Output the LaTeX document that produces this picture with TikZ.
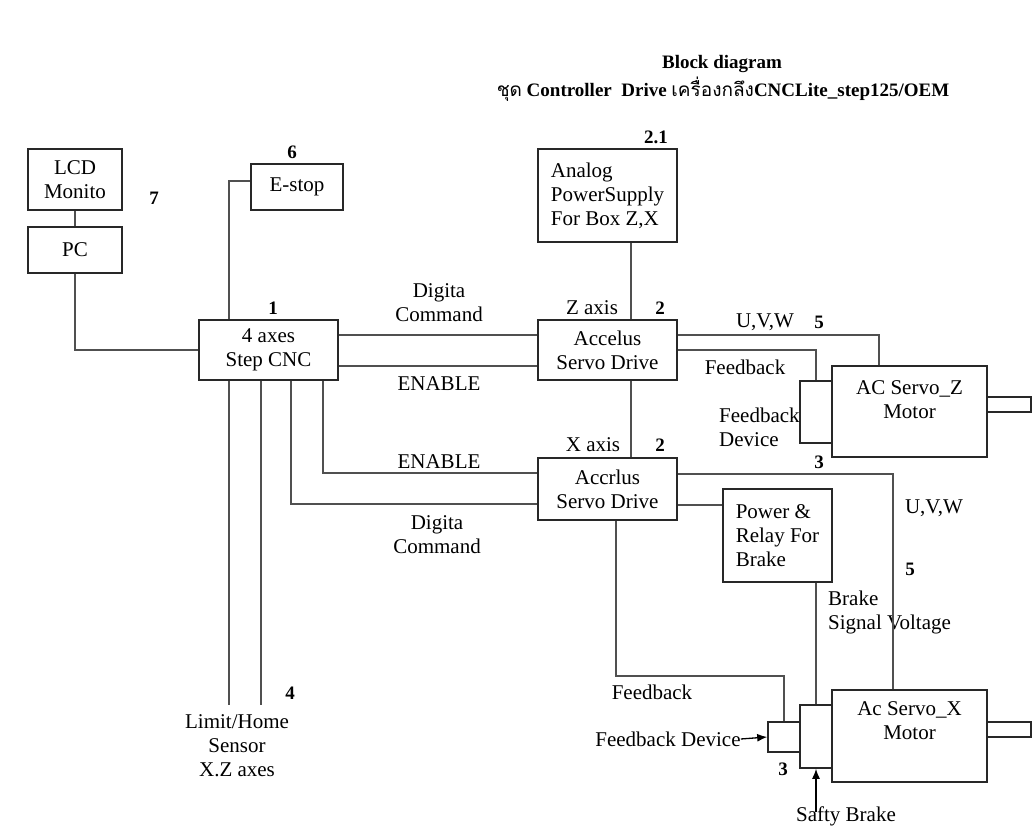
\documentclass[tikz,border=0pt]{standalone}
\usepackage{fontspec}
\setmainfont{Liberation Serif}
\newfontfamily\thaifont[Script=Thai]{Loma}
\usepackage{tikz}
\usetikzlibrary{arrows.meta,calc,positioning}
\definecolor{cncwire}{RGB}{80,80,80}
\definecolor{cncedge}{RGB}{40,40,40}

\begin{document}
\begin{tikzpicture}[x=1pt, y=-1pt,
      blk/.style={draw=cncedge, line width=1.6pt, inner sep=0pt, align=center, font=\fontsize{21}{24}\selectfont},
      wire/.style={draw=cncwire, line width=1.8pt},
      txt/.style={inner sep=0pt, align=center, font=\fontsize{21}{24}\selectfont},
      num/.style={inner sep=0pt, font=\fontsize{19}{22}\selectfont\bfseries},
      ttl/.style={inner sep=0pt, font=\fontsize{19}{22}\selectfont\bfseries}
    ]
      \useasboundingbox (0,0) rectangle (1033,838);

      \node[ttl] (title) at (722,64) {Block diagram};
      \node[ttl] (subtitle) at (723,89) {{\thaifont\mdseries ชุด} Controller\ \ Drive {\thaifont\mdseries เครื่องกลึง}CNCLite\_step125/OEM};

      \node[blk, minimum width=94pt, minimum height=61pt] (lcd) at (75,179.5) {LCD\\Monito};
      \node[blk, minimum width=94pt, minimum height=46pt] (pc) at (75,250) {PC};
      \node[blk, minimum width=92pt, minimum height=46pt] (estop) at (297,187) {E-stop};
      \node[blk, minimum width=139pt, minimum height=60pt] (cnc) at (268.5,350) {4 axes\\Step CNC};
      \node[blk, minimum width=139pt, minimum height=93pt, align=left] (analog) at (607.5,195.5) {Analog\\PowerSupply\\For Box Z,X};
      \node[blk, minimum width=139pt, minimum height=60pt] (accz) at (607.5,350) {Accelus\\Servo Drive};
      \node[blk, minimum width=139pt, minimum height=62pt] (accx) at (607.5,489) {Accrlus\\Servo Drive};
      \node[blk, minimum width=109pt, minimum height=93pt, align=left] (relay) at (777.5,535.5) {Power \&\\Relay For\\Brake};

      \node[blk, minimum width=155pt, minimum height=91pt] (motz) at (909.5,411.5) {};
      \node[blk, minimum width=32pt, minimum height=62pt] (fbz) at (816,412) {};
      \node[blk, minimum width=44pt, minimum height=15pt] (shaftz) at (1009,404.5) {};
      \node[txt] (motzlbl) at ([yshift=12pt]motz.center) {AC Servo\_Z\\Motor};

      \node[blk, minimum width=155pt, minimum height=92pt] (motx) at (909.5,736) {};
      \node[blk, minimum width=32pt, minimum height=63pt] (brk) at (816,736.5) {};
      \node[blk, minimum width=32pt, minimum height=30pt] (fbx) at (784,737) {};
      \node[blk, minimum width=44pt, minimum height=15pt] (shaftx) at (1009,729.5) {};
      \node[txt] (motxlbl) at ([yshift=15pt]motx.center) {Ac Servo\_X\\Motor};

      \node[num] (n7) at (154,198) {7};
      \node[num] (n6) at (292,152) {6};
      \node[num] (n1) at (273,308) {1};
      \node[num] (n21) at (656,137) {2.1};
      \node[num] (n2z) at (660,308) {2};
      \node[num] (n2x) at (660,445) {2};
      \node[num] (n5z) at (819,322) {5};
      \node[num] (n3z) at (819,462) {3};
      \node[num] (n5x) at (910,569) {5};
      \node[num] (n3x) at (783,769) {3};
      \node[num] (n4) at (290,693) {4};

      \node[txt] (zaxis) at (592,308) {Z axis};
      \node[txt] (xaxis) at (593,445) {X axis};
      \node[txt] (cmdz) at (439,303) {Digita\\Command};
      \node[txt] (enz) at (439,384) {ENABLE};
      \node[txt] (enx) at (439,462) {ENABLE};
      \node[txt] (cmdx) at (437,535) {Digita\\Command};
      \node[txt] (uvwz) at (765,322) {U,V,W};
      \node[txt] (fbzlbl) at (745,367) {Feedback};
      \node[txt, anchor=west, align=left] (fbdz) at (719,427) {Feedback\\Device};
      \node[txt] (uvwx) at (934,508) {U,V,W};
      \node[txt, anchor=west, align=left] (brklbl) at (828,612) {Brake\\Signal Voltage};
      \node[txt] (fbxlbl) at (652,692) {Feedback};
      \node[txt] (fbdlbl) at (668,739) {Feedback Device};
      \node[txt] (safty) at (846,816) {Safty Brake};
      \node[txt] (limlbl) at (237,746) {Limit/Home\\Sensor\\X.Z axes};
      \coordinate (limA) at (229,705);
      \coordinate (limB) at (261,705);

      \draw[wire] (lcd) -- (pc);
      \draw[wire] (pc.south) |- (cnc.west);
      \draw[wire] ([yshift=6pt]estop.west) -| ([xshift=-39.5pt]cnc.north);
      \draw[wire] ([yshift=15pt]cnc.east) -- ([yshift=15pt]accz.west);
      \draw[wire] ([yshift=-16pt]cnc.east) -- ([yshift=-16pt]accz.west);
      \draw[wire] ([xshift=54.5pt]cnc.south) |- ([yshift=16pt]accx.west);
      \draw[wire] ([xshift=22.5pt]cnc.south) |- ([yshift=-15pt]accx.west);
      \draw[wire] (cnc.south -| limA) -- (limA);
      \draw[wire] (cnc.south -| limB) -- (limB);
      \draw[wire] ([xshift=23.5pt]analog.south) -- ([xshift=23.5pt]accz.north);
      \draw[wire] ([xshift=23.5pt]accz.south) -- ([xshift=23.5pt]accx.north);
      \draw[wire] ([yshift=15pt]accz.east) -| ([xshift=-30.5pt]motz.north);
      \draw[wire] (accz.east) -| (fbz.north);
      \draw[wire] ([yshift=15pt]accx.east) -| ([xshift=-16.5pt]motx.north);
      \draw[wire] ([yshift=-16pt]accx.east) -- ([yshift=-16pt]accx.east -| relay.west);
      \draw[wire] (brk.north |- relay.south) -- (brk.north);
      \draw[wire] ([xshift=8.5pt]accx.south) -- ++(0,155) -| (fbx.north);
      \draw[wire, draw=black, line width=1.3pt, -{Latex[length=10pt,width=8pt]}] (fbdlbl.east) -- (fbx.west);
      \draw[wire, draw=black, line width=1.3pt, -{Latex[length=10pt,width=8pt]}] ([yshift=-6pt]brk.south |- safty.north) -- (brk.south);
    \end{tikzpicture}
\end{document}
